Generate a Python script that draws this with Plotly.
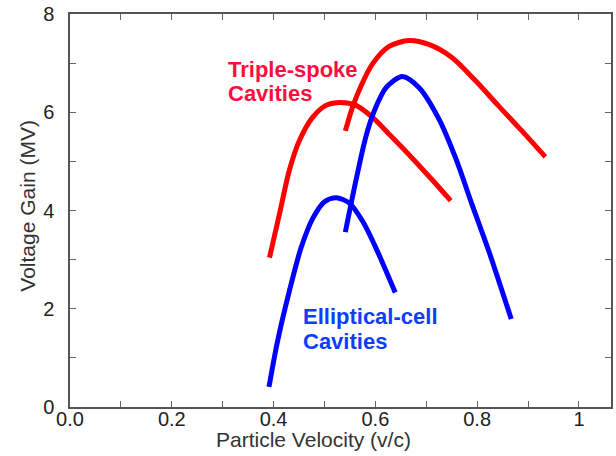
import plotly.graph_objects as go

# Triple-spoke cavities (red)
ts1_v = [0.392, 0.412, 0.431, 0.451, 0.477, 0.503, 0.532, 0.562, 0.594, 0.633, 0.673, 0.712, 0.748]
ts1_g = [3.04, 3.95, 4.82, 5.43, 5.90, 6.14, 6.20, 6.14, 5.90, 5.49, 5.06, 4.62, 4.20]
ts2_v = [0.541, 0.555, 0.572, 0.594, 0.627, 0.666, 0.705, 0.751, 0.797, 0.842, 0.888, 0.934]
ts2_g = [5.62, 6.10, 6.54, 6.98, 7.34, 7.46, 7.38, 7.11, 6.64, 6.13, 5.62, 5.09]

# Elliptical-cell cavities (blue)
ec1_v = [0.391, 0.408, 0.431, 0.454, 0.477, 0.500, 0.523, 0.549, 0.575, 0.601, 0.639]
ec1_g = [0.41, 1.35, 2.36, 3.24, 3.84, 4.18, 4.26, 4.15, 3.78, 3.24, 2.33]
ec2_v = [0.541, 0.562, 0.581, 0.598, 0.621, 0.653, 0.686, 0.725, 0.758, 0.790, 0.823, 0.867]
ec2_g = [3.56, 4.62, 5.49, 6.03, 6.50, 6.73, 6.50, 5.86, 5.06, 4.12, 3.17, 1.79]

x_tickvals = [0, 0.2, 0.4, 0.6, 0.8, 1.0]
x_ticktext = ["0.0", "0.2", "0.4", "0.6", "0.8", "1"]
y_tickvals = [0, 2, 4, 6, 8]

RED = "#ff0000"
BLUE = "#0000ff"

fig = go.Figure()
for xs, ys, c in [(ts1_v, ts1_g, RED), (ts2_v, ts2_g, RED), (ec1_v, ec1_g, BLUE), (ec2_v, ec2_g, BLUE)]:
    fig.add_trace(go.Scatter(x=xs, y=ys, mode="lines",
                             line=dict(color=c, width=5, shape="spline", smoothing=0.8),
                             showlegend=False, hoverinfo="skip"))

font = "Liberation Sans, Arial, sans-serif"
axis_common = dict(showline=True, linecolor="#555555", linewidth=1.5, mirror="ticks",
                   ticks="inside", ticklen=6, tickcolor="#666666", tickwidth=1,
                   showgrid=False, zeroline=False,
                   tickfont=dict(family=font, size=20, color="#222222"))

fig.update_layout(
    width=616, height=456,
    margin=dict(l=70, r=3, t=11, b=49),
    paper_bgcolor="white", plot_bgcolor="white",
    xaxis=dict(range=[0, 1.063], tickvals=x_tickvals, ticktext=x_ticktext,
               ticklabelstandoff=-7,
               minor=dict(dtick=0.1, ticks="inside", ticklen=6, tickcolor="#666666"),
               **axis_common),
    yaxis=dict(range=[0, 8], tickvals=y_tickvals, ticklabelstandoff=10,
               minor=dict(dtick=1, ticks="inside", ticklen=6, tickcolor="#666666"),
               **axis_common),
)

ann = [
    dict(text="Triple-spoke", x=0.307, y=6.87, color="#ff0d40"),
    dict(text="Cavities", x=0.307, y=6.38, color="#ff0d40"),
    dict(text="Elliptical-cell", x=0.454, y=1.84, color="#0d3dff"),
    dict(text="Cavities", x=0.454, y=1.33, color="#0d3dff"),
]
for a in ann:
    fig.add_annotation(x=a["x"], y=a["y"], xref="x", yref="y", text="<b>%s</b>" % a["text"],
                       showarrow=False, xanchor="left", yanchor="middle",
                       font=dict(family=font, size=22, color=a["color"]))

fig.add_annotation(x=0.4496, y=-0.083, xref="paper", yref="paper", text="Particle Velocity (v/c)",
                   showarrow=False, xanchor="center", yanchor="middle",
                   font=dict(family=font, size=21, color="#333333"))
fig.add_annotation(x=-0.0792, y=0.5126, xref="paper", yref="paper", text="Voltage Gain (MV)",
                   showarrow=False, xanchor="center", yanchor="middle", textangle=-90,
                   font=dict(family=font, size=21, color="#333333"))

fig.write_html("out.html")
